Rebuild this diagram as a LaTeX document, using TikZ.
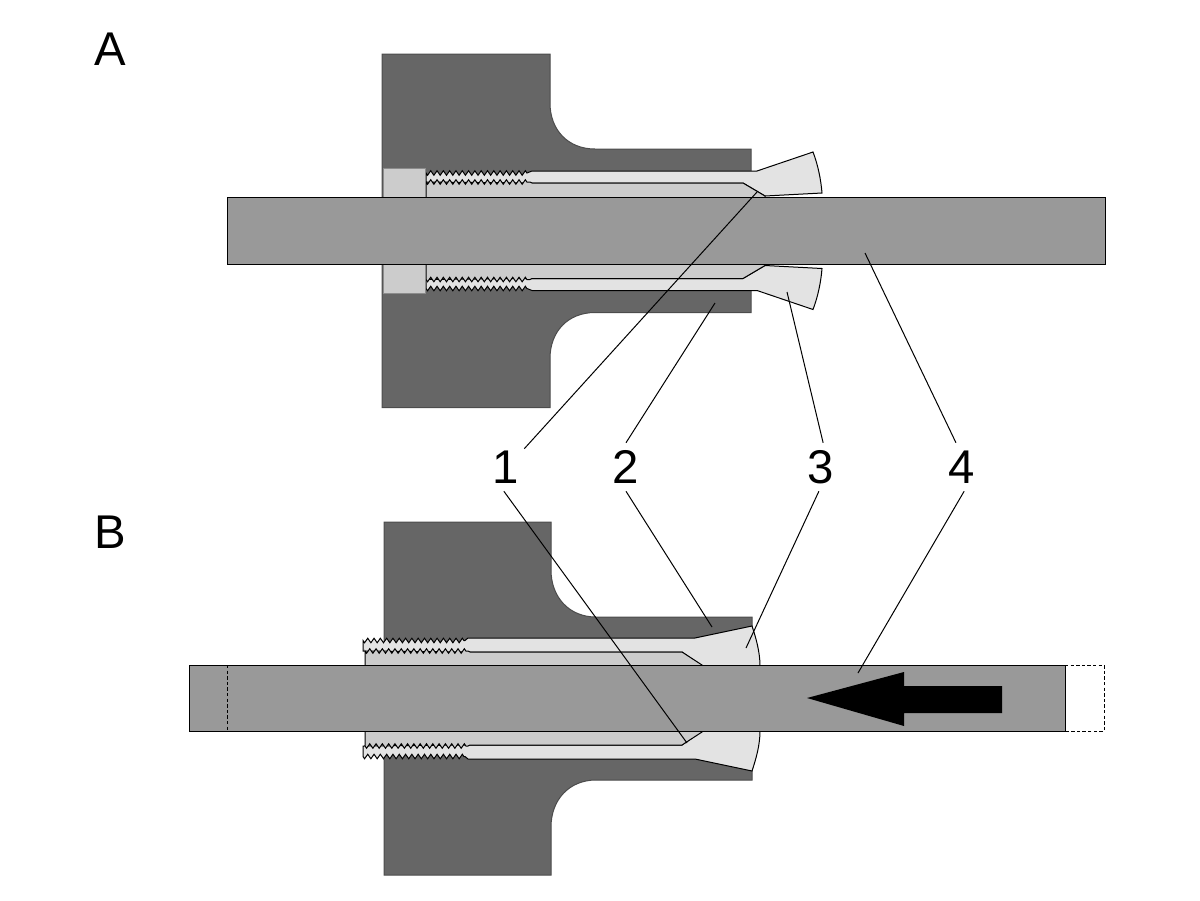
\documentclass[tikz,border=0pt]{standalone}
\usepackage{fontspec}
\setmainfont{Liberation Sans}
\usetikzlibrary{decorations.pathmorphing}
\definecolor{flangegrey}{HTML}{666666}
\definecolor{rodgrey}{HTML}{999999}
\definecolor{sleevegrey}{HTML}{E3E3E3}
\definecolor{bushgrey}{HTML}{CCCCCC}
\tikzset{
  flange/.style={fill=flangegrey,draw=black!70,line width=0.75pt},
  rod/.style={fill=rodgrey,draw=black,line width=0.75pt},
  sleeve/.style={fill=sleevegrey,draw=black,line width=0.75pt},
  bush/.style={fill=bushgrey,draw=black,line width=0.75pt},
  thread/.style={decoration={zigzag,segment length=4.73pt,amplitude=1.7pt,#1}},
  leader/.style={draw=black,line width=0.75pt},
  dashline/.style={draw=black,line width=0.75pt,dash pattern=on 2.5pt off 1.7pt},
  lbl/.style={inner sep=0pt,minimum width=27pt,minimum height=36pt,font=\fontsize{35.5}{38}\selectfont}
}
% half of picture A, above the rod
\newcommand{\halfA}[1]{
  \draw [flange] (382,54) -- (550,54) -- (550,103) .. controls (550,130) and (568,149) .. (595,149) -- (751,149) -- (751,180) -- (382,197) -- cycle ;
  \draw [sleeve] (426,173) decorate[thread=#1] {-- (527,173)} -- (532,171) -- (757,171) -- (813,152) .. controls (818,165) and (821,180) .. (822,193) -- (765,196) -- (743,183) -- (530,183) -- (426,182) -- cycle ;
  \draw [bush] (426,182) decorate[thread=#1] {-- (530,182)} -- (532,183) -- (743,183) -- (765,196) -- (765,198) -- (426,198) -- cycle ;
  \draw [bush,draw=black!45] (383,168) -- (425,168) -- (425,198) -- (383,198) -- cycle ;
}
% half of picture B, above the rod
\newcommand{\halfB}[1]{
  \draw [flange] (384,522) -- (551,522) -- (551,570) .. controls (551,597) and (569,617) .. (596,617) -- (752,617) -- (752,650) -- (384,650) -- cycle ;
  \draw [sleeve] (363,651) -- (363,640.5) decorate[thread=#1] {-- (465,640.5)} -- (468,638) -- (695,638) -- (752,626) .. controls (756,638) and (760,652) .. (760,666) -- (702,666) -- (682,652) -- (468,652) -- (363,651) -- cycle ;
  \draw [bush] (365,651) decorate[thread=#1] {-- (468,651)} -- (470,652) -- (682,652) -- (702,665) -- (702,667) -- (365,667) -- cycle ;
}

\begin{document}
\begin{tikzpicture}[x=0.75pt,y=0.75pt,yscale=-1,xscale=1]
\useasboundingbox (0,0) rectangle (1200,900);

%Shape: picture A
\halfA{mirror=false}
\begin{scope}[shift={(0,461.5)},yscale=-1]
\halfA{mirror=true}
\end{scope}
\draw [rod] (227,197) -- (1105,197) -- (1105,264) -- (227,264) -- cycle ;

%Shape: picture B
\halfB{mirror=false}
\begin{scope}[shift={(0,1397)},yscale=-1]
\halfB{mirror=true}
\end{scope}
\draw [rod] (189,665) -- (1065,665) -- (1065,731) -- (189,731) -- cycle ;
\draw [dashline] (227,665) -- (227,731) ;
\draw [dashline] (1065,665) -- (1104,665) -- (1104,731) -- (1065,731) ;

%Shape: push arrow
\fill [black] (807,698) -- (904,672) -- (904,686) -- (1002,686) -- (1002,713) -- (904,713) -- (904,726) -- cycle ;

% Text Node
\node [lbl] (capA) at (110,49) {A};
\node [lbl] (capB) at (110,532) {B};
\node [lbl] (numOne) at (506,467) {1};
\node [lbl] (numTwo) at (626,467) {2};
\node [lbl] (numThree) at (821,467) {3};
\node [lbl] (numFour) at (962,467) {4};

% leader ends
\coordinate (tipOneA) at (757,192);
\coordinate (tipTwoA) at (715,303);
\coordinate (tipThreeA) at (787,292);
\coordinate (tipFourA) at (865,253);
\coordinate (tipOneB) at (687,743);
\coordinate (tipTwoB) at (712,627);
\coordinate (tipThreeB) at (746,648);
\coordinate (tipFourB) at (858,673);

%Straight Lines
\draw [leader] (numOne.45) -- (tipOneA) ;
\draw [leader] (numTwo.north) -- (tipTwoA) ;
\draw [leader] (numThree.85) -- (tipThreeA) ;
\draw [leader] (numFour.104) -- (tipFourA) ;
\draw [leader] (numOne.265) -- (tipOneB) ;
\draw [leader] (numTwo.south) -- (tipTwoB) ;
\draw [leader] (numThree.265) -- (tipThreeB) ;
\draw [leader] (numFour.275) -- (tipFourB) ;
\end{tikzpicture}
\end{document}
